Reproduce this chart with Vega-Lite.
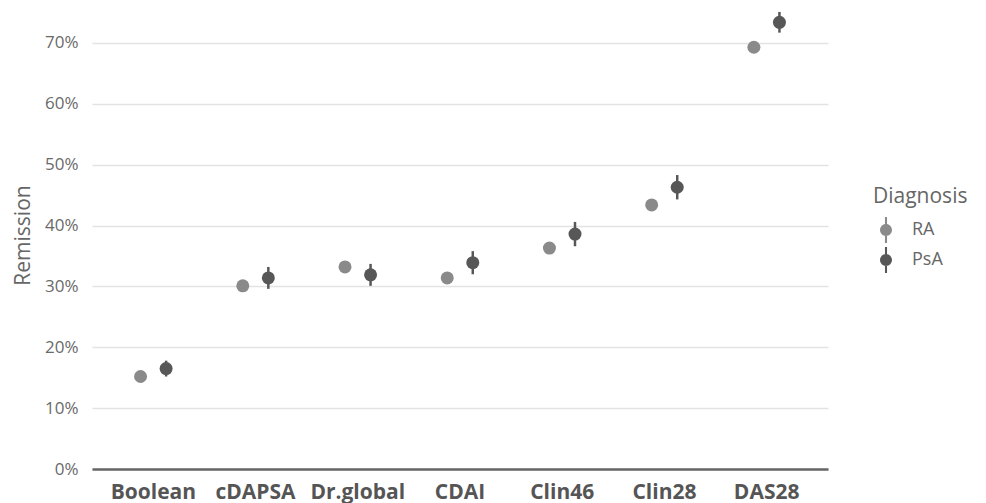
{
  "$schema": "https://vega.github.io/schema/vega-lite/v6.json",
  "width": 736,
  "height": 468,
  "autosize": {"type": "none"},
  "padding": {"left": 92, "top": 1, "right": 158, "bottom": 34},
  "background": "white",
  "config": {
    "font": "Open Sans",
    "view": {"stroke": null}
  },
  "data": {
    "values": [
      {"measure": "Boolean", "Diagnosis": "RA", "value": 0.152, "lo": 0.146, "hi": 0.158},
      {"measure": "Boolean", "Diagnosis": "PsA", "value": 0.165, "lo": 0.152, "hi": 0.178},
      {"measure": "cDAPSA", "Diagnosis": "RA", "value": 0.301, "lo": 0.295, "hi": 0.307},
      {"measure": "cDAPSA", "Diagnosis": "PsA", "value": 0.314, "lo": 0.296, "hi": 0.332},
      {"measure": "Dr.global", "Diagnosis": "RA", "value": 0.332, "lo": 0.326, "hi": 0.338},
      {"measure": "Dr.global", "Diagnosis": "PsA", "value": 0.319, "lo": 0.301, "hi": 0.337},
      {"measure": "CDAI", "Diagnosis": "RA", "value": 0.314, "lo": 0.308, "hi": 0.320},
      {"measure": "CDAI", "Diagnosis": "PsA", "value": 0.339, "lo": 0.320, "hi": 0.358},
      {"measure": "Clin46", "Diagnosis": "RA", "value": 0.363, "lo": 0.357, "hi": 0.369},
      {"measure": "Clin46", "Diagnosis": "PsA", "value": 0.386, "lo": 0.366, "hi": 0.406},
      {"measure": "Clin28", "Diagnosis": "RA", "value": 0.434, "lo": 0.428, "hi": 0.440},
      {"measure": "Clin28", "Diagnosis": "PsA", "value": 0.463, "lo": 0.443, "hi": 0.483},
      {"measure": "DAS28", "Diagnosis": "RA", "value": 0.693, "lo": 0.687, "hi": 0.699},
      {"measure": "DAS28", "Diagnosis": "PsA", "value": 0.734, "lo": 0.717, "hi": 0.751}
    ]
  },
  "encoding": {
    "x": {
      "field": "measure",
      "type": "nominal",
      "sort": ["Boolean", "cDAPSA", "Dr.global", "CDAI", "Clin46", "Clin28", "DAS28"],
      "scale": {"type": "band", "paddingInner": 0, "paddingOuter": 0.1},
      "axis": {
        "title": null,
        "labelAngle": 0,
        "labelFont": "Open Sans",
        "labelFontSize": 21,
        "labelFontWeight": "bold",
        "labelColor": "#555555",
        "labelPadding": 12,
        "ticks": false,
        "tickSize": 0,
        "grid": false,
        "domain": true,
        "domainColor": "#666666",
        "domainWidth": 2.5
      }
    },
    "xOffset": {
      "field": "Diagnosis",
      "type": "nominal",
      "scale": {"domain": ["RA", "PsA"], "paddingInner": 0, "paddingOuter": 1}
    },
    "color": {
      "field": "Diagnosis",
      "type": "nominal",
      "scale": {"domain": ["RA", "PsA"], "range": ["#8a8a8a", "#575757"]},
      "legend": {
        "title": "Diagnosis",
        "orient": "none",
        "legendX": 781,
        "legendY": 185,
        "titleFont": "Open Sans",
        "titleFontSize": 21,
        "titleFontWeight": "normal",
        "titleColor": "#666666",
        "titlePadding": 10,
        "labelFont": "Open Sans",
        "labelFontSize": 18,
        "labelColor": "#666666",
        "labelOffset": 13,
        "rowPadding": 4,
        "symbolSize": 676,
        "symbolType": "M-0.08,-1L0.08,-1L0.08,1L-0.08,1Z M0.46,0A0.46,0.46,0,1,1,-0.46,0A0.46,0.46,0,1,1,0.46,0Z",
        "symbolStrokeWidth": 0,
        "symbolOpacity": 1
      }
    }
  },
  "layer": [
    {
      "mark": {"type": "rule", "strokeWidth": 2.5},
      "encoding": {
        "y": {
          "field": "lo",
          "type": "quantitative",
          "scale": {"domain": [0, 0.769], "nice": false, "zero": true},
          "axis": {
            "title": "Remission",
            "titleFont": "Open Sans",
            "titleFontSize": 21,
            "titleFontWeight": "normal",
            "titleColor": "#666666",
            "titlePadding": 11,
            "values": [0, 0.1, 0.2, 0.3, 0.4, 0.5, 0.6, 0.7],
            "format": ".0%",
            "labelFont": "Open Sans",
            "labelFontSize": 17,
            "labelColor": "#6a6a6a",
            "labelPadding": 14,
            "ticks": false,
            "tickSize": 0,
            "domain": false,
            "grid": true,
            "gridColor": "#e3e3e3",
            "gridWidth": 1.5
          }
        },
        "y2": {"field": "hi"}
      }
    },
    {
      "mark": {"type": "point", "filled": true, "size": 169, "opacity": 1, "shape": "circle"},
      "encoding": {
        "y": {"field": "value", "type": "quantitative"}
      }
    }
  ]
}
